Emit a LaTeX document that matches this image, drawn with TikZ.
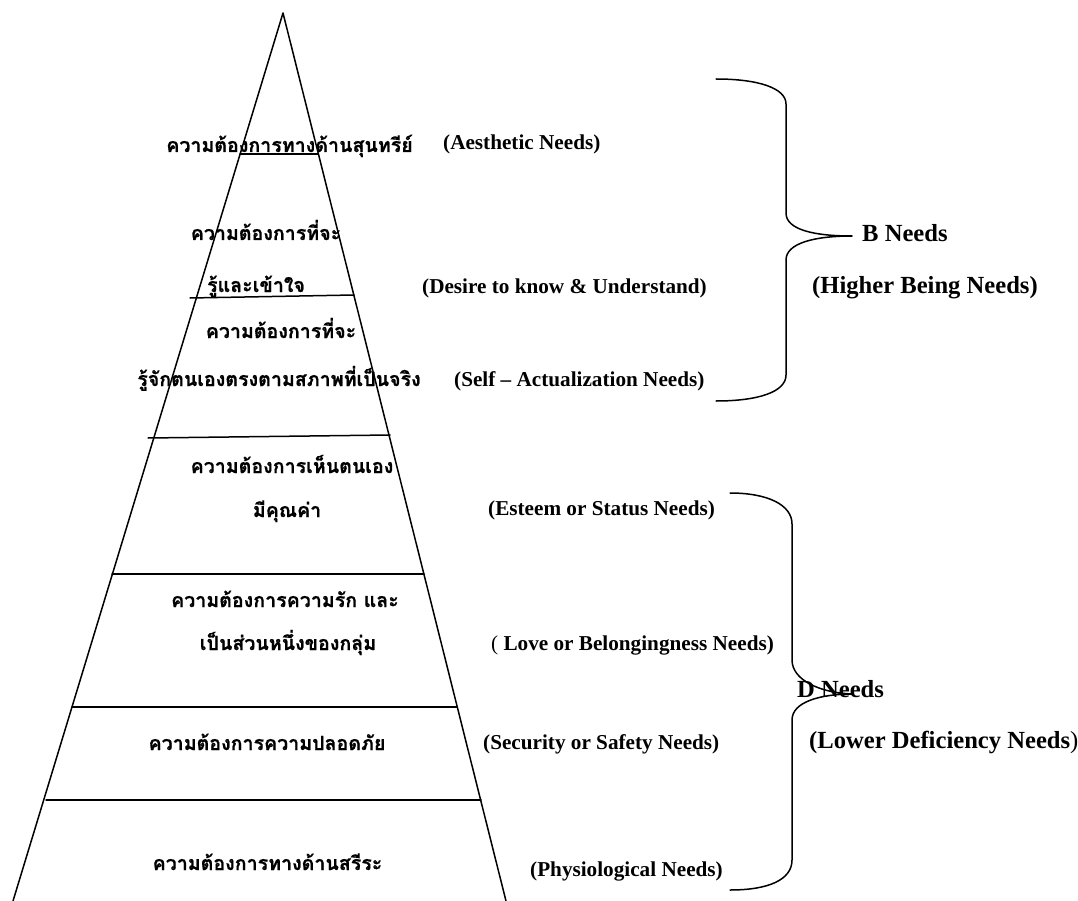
\documentclass[tikz,border=0pt]{standalone}
\usepackage{fontspec}
\setmainfont{Liberation Serif}
\newfontfamily\thaifont[Script=Thai, BoldFeatures={FakeBold=0.6}]{Loma}
\begin{document}
\begin{tikzpicture}[x=1pt,y=-1pt,
  edge/.style={line width=1.5pt, line cap=round, line join=round},
  en/.style={font=\fontsize{21.2}{24}\selectfont\bfseries, anchor=base west, inner sep=0pt},
  grp/.style={font=\fontsize{24.6}{28}\selectfont\bfseries, anchor=base west, inner sep=0pt},
  th/.style={font=\thaifont\fontsize{19.6}{22}\selectfont\bfseries, anchor=base, inner sep=0pt}]
\useasboundingbox (0,0) rectangle (1078,901);

% pyramid outline
\coordinate (apex) at (283,13);
\coordinate (bl) at (13,901);
\coordinate (br) at (506,901);
\draw[edge] (bl) -- (apex) -- (br);

% level dividers
\draw[edge] (240,154) -- (318,154);
\draw[edge] (190,298) -- (354,295);
\draw[edge] (148,438) -- (390,435);
\draw[edge] (112,574) -- (424,574);
\draw[edge] (72,707) -- (457,707);
\draw[edge] (46,800) -- (481,800);

% Thai level labels
\node[th] (t1) at (289.5,152) {ความต้องการทางด้านสุนทรีย์};
\node[th] (t2) at (266,240) {ความต้องการที่จะ};
\node[th] (t3) at (256,292) {รู้และเข้าใจ};
\node[th] (t4) at (281,338) {ความต้องการที่จะ};
\node[th] (t5) at (279,386) {รู้จักตนเองตรงตามสภาพที่เป็นจริง};
\node[th] (t6) at (292,473) {ความต้องการเห็นตนเอง};
\node[th] (t7) at (287,517) {มีคุณค่า};
\node[th] (t8) at (285,607) {ความต้องการความรัก และ};
\node[th] (t9) at (288,650) {เป็นส่วนหนึ่งของกลุ่ม};
\node[th] (t10) at (267,750) {ความต้องการความปลอดภัย};
\node[th] (t11) at (267.5,870) {ความต้องการทางด้านสรีระ};

% English level labels
\node[en] (aes) at (443,150) {(Aesthetic Needs)};
\node[en] (des) at (422,293) {(Desire to know \& Understand)};
\node[en] (self) at (454,386) {(Self – Actualization Needs)};
\node[en] (est) at (488,515) {(Esteem or Status Needs)};
\node[en] (love) at (491,650) {{\mdseries(} Love or Belongingness Needs)};
\node[en] (sec) at (483,749) {(Security or Safety Needs)};
\node[en] (phy) at (530,876) {(Physiological Needs)};

% group labels
\node[grp] (bn) at (862,242) {B Needs};
\node[grp] (hb) at (812,293) {(Higher Being Needs)};
\node[grp] (dn) at (797,697) {D Needs};
\node[grp] (ld) at (809,748) {(Lower Deficiency Needs{\mdseries)}};

% brace for the higher needs
\draw[edge] (716,79) .. controls (758,79) and (786,88) .. (786,104)
  -- (786,213) .. controls (786,230) and (815,236) .. (852,236)
  .. controls (815,236) and (786,243) .. (786,260)
  -- (786,375) .. controls (786,392) and (758,401) .. (716,401);

% brace for the deficiency needs
\draw[edge] (730,493) .. controls (768,493) and (792,505) .. (792,524)
  -- (792,660) .. controls (792,680) and (820,693) .. (853,694)
  .. controls (820,694) and (792,702) .. (792,720)
  -- (792,860) .. controls (792,880) and (768,890) .. (730,890);
\end{tikzpicture}
\end{document}
